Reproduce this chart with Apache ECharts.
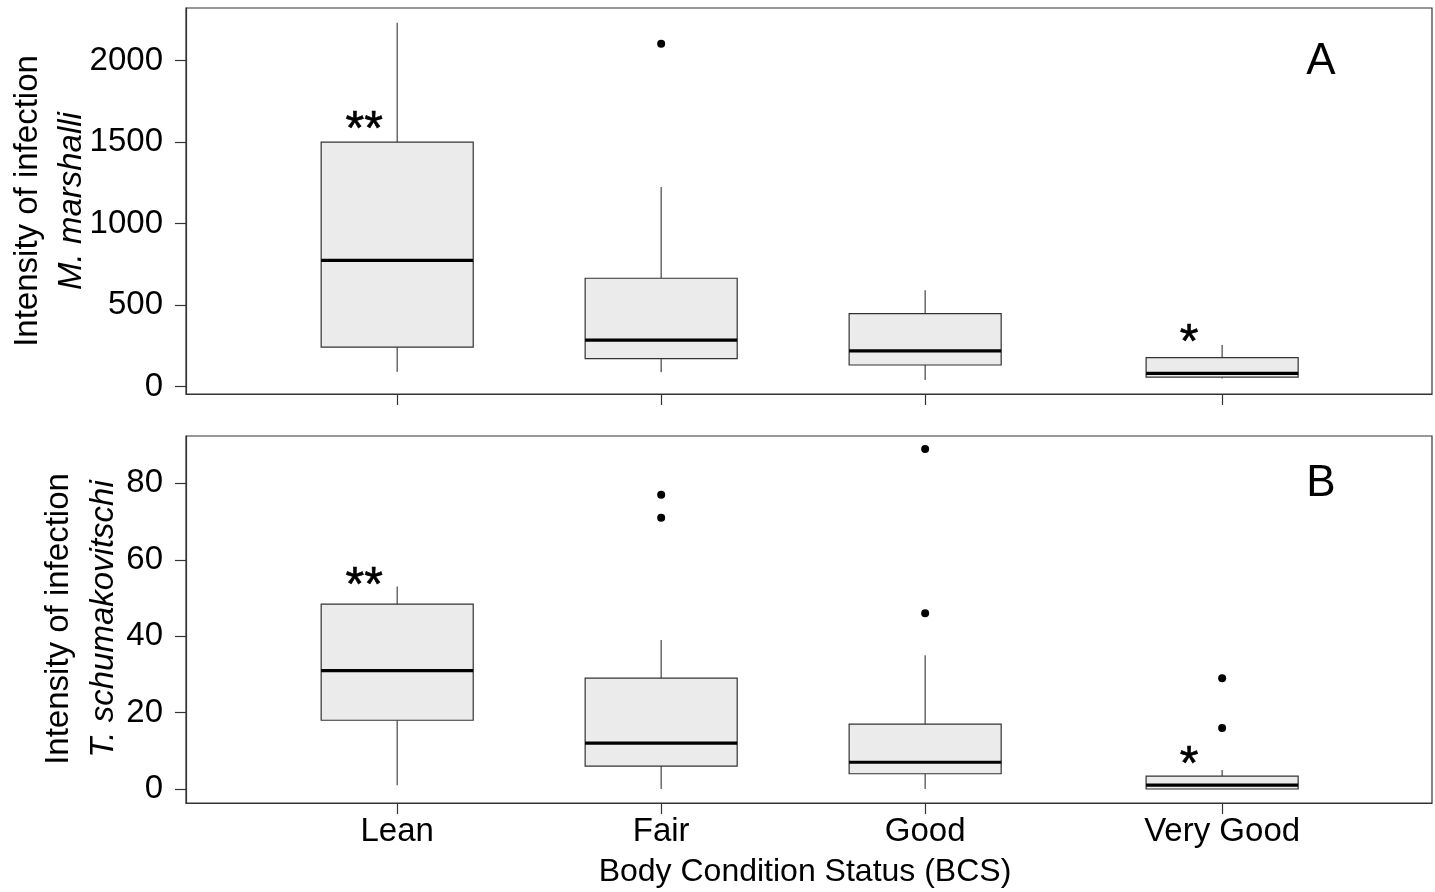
<!DOCTYPE html>
<html>
<head>
<meta charset="utf-8">
<script src="https://cdn.jsdelivr.net/npm/echarts@6/dist/echarts.min.js"></script>
<style>
html,body{margin:0;padding:0;background:#fff;}
#chart{width:1435px;height:892px;}
</style>
</head>
<body>
<div id="chart"></div>
<script>
// ---------- data ----------
const categories = ['Lean', 'Fair', 'Good', 'Very Good'];
const catPositions = [1, 2, 3, 4.125];

// Panel A: M. marshalli
const mmLow     = [92, 88, 41, 50];
const mmQ1      = [243, 172, 133, 58];
const mmMedian  = [775, 286, 219, 82];
const mmQ3      = [1500, 665, 448, 178];
const mmHigh    = [2233, 1225, 591, 256];
const mmOutliers = [[], [2104], [], []];
const mmSig     = ['**', '', '', '*'];
const mmSigAt   = [1570, null, null, 262];
const mmTicks   = [0, 500, 1000, 1500, 2000];

// Panel B: T. schumakovitschi
const tsLow     = [1, 0, 0, 0];
const tsQ1      = [18, 6, 4, 0];
const tsMedian  = [31, 12, 7, 1];
const tsQ3      = [48.4, 29, 17, 3.4];
const tsHigh    = [53, 39, 35, 5];
const tsOutliers = [[], [77, 71], [89, 46], [29, 16]];
const tsSig     = ['**', '', '', '*'];
const tsSigAt   = [53, null, null, 6];
const tsTicks   = [0, 20, 40, 60, 80];

// ---------- helpers ----------
const FONT = '"Liberation Sans", Arial, Helvetica, sans-serif';
const BOX_HALF = 0.288;
const SIG_SHIFT = -0.125;

function boxData(lo, q1, med, q3, hi) {
  return catPositions.map((x, i) => [x, lo[i], q1[i], med[i], q3[i], hi[i]]);
}
function outlierData(out) {
  const res = [];
  out.forEach((arr, i) => arr.forEach(v => res.push([catPositions[i], v])));
  return res;
}
function sigData(sig, at) {
  const res = [];
  sig.forEach((s, i) => { if (s) res.push({ value: [catPositions[i] + SIG_SHIFT, at[i]], name: s }); });
  return res;
}

function renderBox(params, api) {
  const x = api.value(0), lo = api.value(1), q1 = api.value(2),
        med = api.value(3), q3 = api.value(4), hi = api.value(5);
  const tl = api.coord([x - BOX_HALF, q3]);
  const br = api.coord([x + BOX_HALF, q1]);
  const cTop = api.coord([x, q3]), cHi = api.coord([x, hi]);
  const cBot = api.coord([x, q1]), cLo = api.coord([x, lo]);
  const mL = api.coord([x - BOX_HALF, med]), mR = api.coord([x + BOX_HALF, med]);
  const wStyle = { stroke: '#444', lineWidth: 1.2 };
  return {
    type: 'group',
    children: [
      { type: 'line', shape: { x1: cTop[0], y1: cTop[1], x2: cHi[0], y2: cHi[1] }, style: wStyle },
      { type: 'line', shape: { x1: cBot[0], y1: cBot[1], x2: cLo[0], y2: cLo[1] }, style: wStyle },
      { type: 'rect', shape: { x: tl[0], y: tl[1], width: br[0] - tl[0], height: br[1] - tl[1] },
        style: { fill: '#ebebeb', stroke: '#333', lineWidth: 1.2 } },
      { type: 'line', shape: { x1: mL[0], y1: mL[1], x2: mR[0], y2: mR[1] },
        style: { stroke: '#000', lineWidth: 3.2 } }
    ]
  };
}

function sigSeries(idx, data) {
  return {
    type: 'custom',
    xAxisIndex: idx, yAxisIndex: idx,
    data: data,
    encode: { x: 0, y: 1 },
    clip: false,
    silent: true,
    renderItem: function (params, api) {
      const p = api.coord([api.value(0), api.value(1)]);
      return {
        type: 'text',
        x: p[0], y: p[1],
        style: {
          text: data[params.dataIndex].name,
          font: '48px ' + FONT,
          fill: '#000',
          stroke: '#000',
          lineWidth: 0.6,
          textAlign: 'center',
          textVerticalAlign: 'middle'
        }
      };
    }
  };
}

function xAxis(idx, showLabels) {
  return {
    type: 'value', gridIndex: idx, min: 0.2, max: 4.92,
    axisLine: { show: true, onZero: false, lineStyle: { color: '#333', width: 1.2 } },
    axisTick: { show: true, inside: false, length: 11, customValues: catPositions,
                lineStyle: { color: '#333', width: 1.2 } },
    axisLabel: {
      show: showLabels, customValues: catPositions, margin: 12,
      color: '#000', fontSize: 33, fontFamily: FONT,
      formatter: v => { const i = catPositions.findIndex(p => Math.abs(p - v) < 1e-6); return i >= 0 ? categories[i] : ''; }
    },
    splitLine: { show: false }
  };
}
function yAxis(idx, min, max, ticks) {
  return {
    type: 'value', gridIndex: idx, min: min, max: max,
    axisLine: { show: true, onZero: false, lineStyle: { color: '#333', width: 1.2 } },
    axisTick: { show: true, inside: false, length: 11, customValues: ticks,
                lineStyle: { color: '#333', width: 1.2 } },
    axisLabel: { show: true, customValues: ticks, margin: 23, color: '#000',
                 fontSize: 33, fontFamily: FONT, formatter: v => String(v) },
    splitLine: { show: false }
  };
}

const chart = echarts.init(document.getElementById('chart'), null, { renderer: 'canvas' });

const option = {
  backgroundColor: '#fff',
  animation: false,
  grid: [
    { left: 186, top: 8, width: 1246, height: 386, show: true, borderColor: '#333', borderWidth: 1.2, backgroundColor: 'transparent' },
    { left: 186, top: 436, width: 1246, height: 367, show: true, borderColor: '#333', borderWidth: 1.2, backgroundColor: 'transparent' }
  ],
  xAxis: [xAxis(0, false), xAxis(1, true)],
  yAxis: [yAxis(0, -45, 2323, mmTicks), yAxis(1, -3.66, 92.4, tsTicks)],
  series: [
    { type: 'custom', xAxisIndex: 0, yAxisIndex: 0, renderItem: renderBox,
      encode: { x: 0, y: [1, 2, 3, 4, 5] }, data: boxData(mmLow, mmQ1, mmMedian, mmQ3, mmHigh), silent: true },
    { type: 'custom', xAxisIndex: 1, yAxisIndex: 1, renderItem: renderBox,
      encode: { x: 0, y: [1, 2, 3, 4, 5] }, data: boxData(tsLow, tsQ1, tsMedian, tsQ3, tsHigh), silent: true },
    { type: 'scatter', xAxisIndex: 0, yAxisIndex: 0, data: outlierData(mmOutliers),
      symbol: 'circle', symbolSize: 8, itemStyle: { color: '#000', opacity: 1 }, silent: true },
    { type: 'scatter', xAxisIndex: 1, yAxisIndex: 1, data: outlierData(tsOutliers),
      symbol: 'circle', symbolSize: 8, itemStyle: { color: '#000', opacity: 1 }, silent: true },
    sigSeries(0, sigData(mmSig, mmSigAt)),
    sigSeries(1, sigData(tsSig, tsSigAt))
  ],
  graphic: [
    { type: 'text', x: 28, y: 201, rotation: Math.PI / 2,
      style: { text: 'Intensity of infection', font: '33px ' + FONT, fill: '#000', textAlign: 'center', textVerticalAlign: 'middle' } },
    { type: 'text', x: 72, y: 201, rotation: Math.PI / 2,
      style: { text: 'M. marshalli', font: 'italic 33px ' + FONT, fill: '#000', textAlign: 'center', textVerticalAlign: 'middle' } },
    { type: 'text', x: 59, y: 619, rotation: Math.PI / 2,
      style: { text: 'Intensity of infection', font: '33px ' + FONT, fill: '#000', textAlign: 'center', textVerticalAlign: 'middle' } },
    { type: 'text', x: 104, y: 619, rotation: Math.PI / 2,
      style: { text: 'T. schumakovitschi', font: 'italic 33px ' + FONT, fill: '#000', textAlign: 'center', textVerticalAlign: 'middle' } },
    { type: 'text', x: 805, y: 872,
      style: { text: 'Body Condition Status (BCS)', font: '32px ' + FONT, fill: '#000', textAlign: 'center', textVerticalAlign: 'middle' } },
    { type: 'text', x: 1321, y: 62,
      style: { text: 'A', font: '44px ' + FONT, fill: '#000', textAlign: 'center', textVerticalAlign: 'middle' } },
    { type: 'text', x: 1321, y: 484,
      style: { text: 'B', font: '44px ' + FONT, fill: '#000', textAlign: 'center', textVerticalAlign: 'middle' } }
  ]
};
chart.setOption(option);
</script>
</body>
</html>
